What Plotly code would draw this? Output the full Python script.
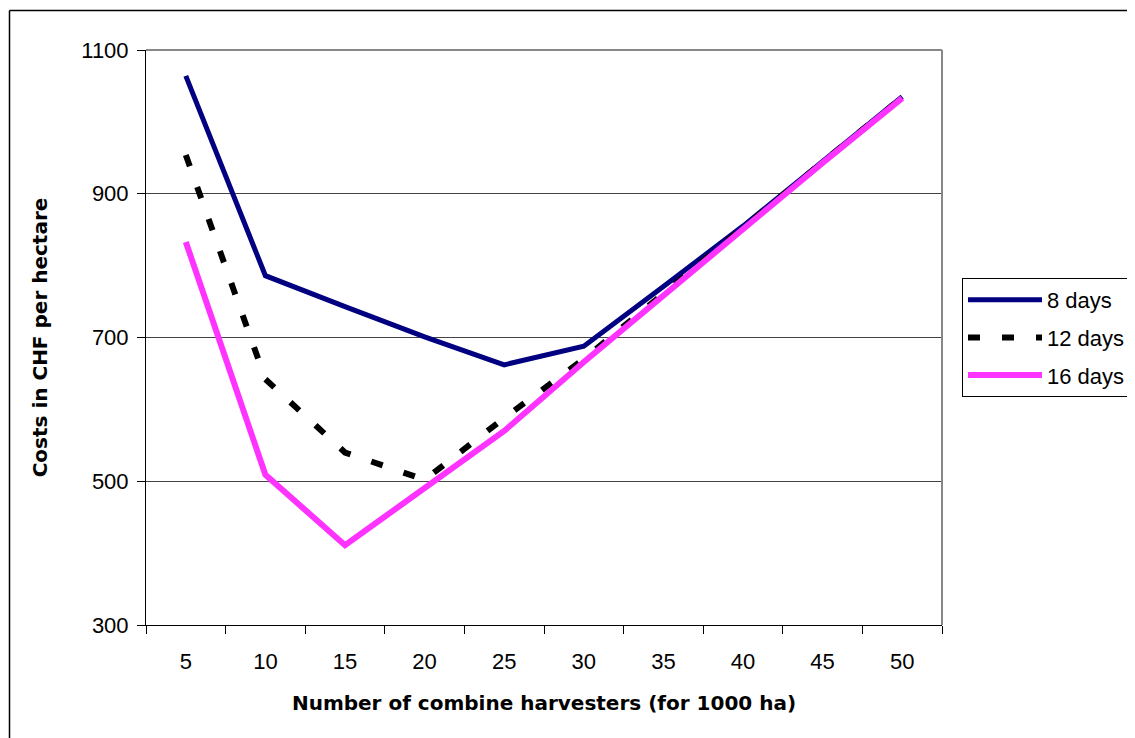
import plotly.graph_objects as go

categories = ["5", "10", "15", "20", "25", "30", "35", "40", "45", "50"]
days8 = [1064, 786, 743, 701, 662, 688, 771, 855, 945, 1035]
days12 = [954, 642, 540, 502, 588, 670, 761, 853, 944, 1034]
days16 = [833, 509, 411, 491, 570, 666, 759, 851, 943, 1033]
y_ticks = [300, 500, 700, 900, 1100]

fig = go.Figure()
fig.add_trace(go.Scatter(x=categories, y=days8, mode="lines", name="8 days",
                         legendgroup="a",
                         line=dict(color="#000080", width=5)))
fig.add_trace(go.Scatter(x=categories, y=days12, mode="lines", name="12 days",
                         legendgroup="b",
                         line=dict(color="#000000", width=6, dash="12px,22px")))
fig.add_trace(go.Scatter(x=categories, y=days16, mode="lines", name="16 days",
                         legendgroup="c",
                         line=dict(color="#ff33ff", width=6)))

font_family = "Liberation Sans, Arial, sans-serif"
title_family = "DejaVu Sans, sans-serif"

W, H = 1127, 730
L, T, R, B = 138, 42, 193, 113
plot_w = W - L - R
plot_h = H - T - B

fig.update_layout(
    width=W, height=H,
    margin=dict(l=L, r=R, t=T, b=B, autoexpand=False),
    paper_bgcolor="white", plot_bgcolor="white",
    font=dict(family=font_family, size=22, color="black"),
    showlegend=True,
    legend=dict(xref="container", yref="container",
                x=954 / W, y=1 - 270 / H,
                xanchor="left", yanchor="top",
                bgcolor="white", bordercolor="black", borderwidth=1,
                font=dict(size=22, family=font_family),
                traceorder="grouped", tracegroupgap=6, itemwidth=74),
    xaxis=dict(type="category", range=[-0.5, 9.5], tickson="boundaries",
               ticks="outside", ticklen=8, tickcolor="black",
               showline=True, linecolor="black", linewidth=1,
               showgrid=False, mirror=False, ticklabelstandoff=17,
               tickfont=dict(size=22),
               title=dict(text="<b>Number of combine harvesters (for 1000 ha)</b>",
                          font=dict(size=20, family=title_family), standoff=22)),
    yaxis=dict(range=[300, 1100], tickvals=y_ticks,
               ticks="outside", ticklen=8, tickcolor="black",
               showline=True, linecolor="black", linewidth=1,
               showgrid=True, gridcolor="#444444", gridwidth=1,
               zeroline=False, tickfont=dict(size=22), ticklabelstandoff=4,
               title=dict(text="<b>Costs in CHF per hectare</b>",
                          font=dict(size=20, family=title_family), standoff=28)),
)

# plot area top/right border (gray)
fig.add_shape(type="line", xref="paper", yref="paper", x0=0, x1=1, y0=1, y1=1,
              line=dict(color="#888888", width=2))
fig.add_shape(type="line", xref="paper", yref="paper", x0=1, x1=1, y0=0, y1=1,
              line=dict(color="#888888", width=2))
# outer chart border (left and top visible)
bx = (1.5 - L) / plot_w
by = 1 + (T - 2.5) / plot_h
fig.add_shape(type="line", xref="paper", yref="paper",
              x0=bx, x1=bx, y0=-2, y1=by,
              line=dict(color="black", width=1.5))
fig.add_shape(type="line", xref="paper", yref="paper",
              x0=bx, x1=2, y0=by, y1=by,
              line=dict(color="black", width=1.5))

fig.write_html("out.html")
